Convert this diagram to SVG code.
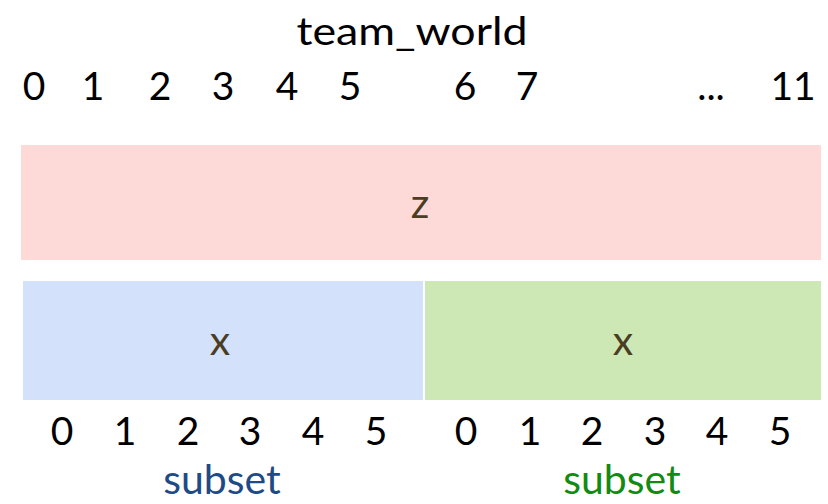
<svg xmlns="http://www.w3.org/2000/svg" width="828" height="504" viewBox="0 0 828 504">
  <style>
    text { font-family: Lato, "Open Sans", "Liberation Sans", sans-serif; text-anchor: middle; }
    .idx { font-size: 39px; fill: #000; }
    .title { font-size: 39px; fill: #000; }
    .var { font-size: 41px; fill: #4a3d22; }
    .sub { font-size: 41px; }
  </style>
  <rect width="828" height="504" fill="#fff"/>

  <text class="title" x="412" y="45" textLength="231" lengthAdjust="spacingAndGlyphs">team_world</text>

  <!-- team_world ranks -->
  <g id="world-ranks">
    <text class="idx" x="34" y="100">0</text>
    <text class="idx" x="93" y="100">1</text>
    <text class="idx" x="160" y="100">2</text>
    <text class="idx" x="223" y="100">3</text>
    <text class="idx" x="287" y="100">4</text>
    <text class="idx" x="350" y="100">5</text>
    <text class="idx" x="465" y="100">6</text>
    <text class="idx" x="527" y="100">7</text>
    <text class="idx" x="711" y="100">...</text>
    <text class="idx" x="793" y="100">11</text>
  </g>

  <g id="z">
    <rect x="21" y="145" width="800" height="115" fill="#fdd9d8"/>
    <text class="var" x="420" y="218">z</text>
  </g>

  <g id="x-left">
    <rect x="23" y="281" width="400" height="119" fill="#d3e1fa"/>
    <text class="var" x="220" y="355">x</text>
  </g>

  <g id="x-right">
    <rect x="425" y="281" width="396" height="119" fill="#cde7b5"/>
    <text class="var" x="623" y="355">x</text>
  </g>

  <!-- subset ranks -->
  <g id="subset-ranks-left">
    <text class="idx" x="62" y="445">0</text>
    <text class="idx" x="125" y="445">1</text>
    <text class="idx" x="188" y="445">2</text>
    <text class="idx" x="250" y="445">3</text>
    <text class="idx" x="313" y="445">4</text>
    <text class="idx" x="376" y="445">5</text>
  </g>
  <g id="subset-ranks-right">
    <text class="idx" x="466" y="445">0</text>
    <text class="idx" x="530" y="445">1</text>
    <text class="idx" x="592" y="445">2</text>
    <text class="idx" x="655" y="445">3</text>
    <text class="idx" x="717" y="445">4</text>
    <text class="idx" x="780" y="445">5</text>
  </g>

  <text id="subset-left" class="sub" x="222" y="494" fill="#1e4a85">subset</text>
  <text id="subset-right" class="sub" x="622" y="494" fill="#138a12">subset</text>
</svg>
